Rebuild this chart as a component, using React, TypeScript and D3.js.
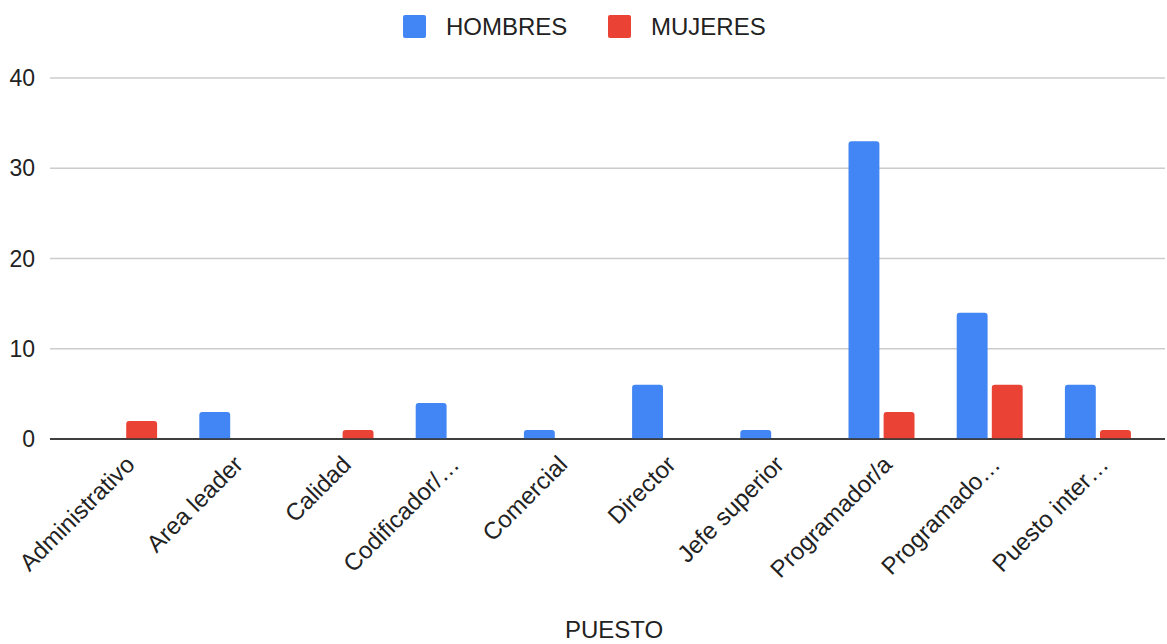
import React from "react";
import * as d3 from "d3";

const categories = [
  "Administrativo",
  "Area leader",
  "Calidad",
  "Codificador/…",
  "Comercial",
  "Director",
  "Jefe superior",
  "Programador/a",
  "Programado…",
  "Puesto inter…",
];
const hombres = [0, 3, 0, 4, 1, 6, 1, 33, 14, 6];
const mujeres = [2, 0, 1, 0, 0, 0, 0, 3, 6, 1];
const seriesNames = ["HOMBRES", "MUJERES"];
const seriesColors = ["#4285F4", "#EA4335"];
const yTicks = [0, 10, 20, 30, 40];

const W = 1167;
const H = 644;
const FONT = "'Liberation Sans', Arial, sans-serif";

export default function App() {
  const x = d3.scaleBand<string>().domain(categories).range([70, 1152]).paddingInner(0).paddingOuter(0);
  const y = d3.scaleLinear().domain([0, 40]).range([439, 78]);
  const inner = d3.scaleBand<string>().domain(seriesNames).range([0, 66]).paddingInner(0.12);
  const values = [hombres, mujeres];
  const gridX0 = 50;
  const gridX1 = 1165;

  const barPath = (x0: number, y0: number, w: number, h: number, r: number) => {
    if (h <= 0) return "";
    const rr = Math.min(r, h, w / 2);
    return `M${x0},${y0 + h}V${y0 + rr}Q${x0},${y0} ${x0 + rr},${y0}H${x0 + w - rr}Q${x0 + w},${y0} ${x0 + w},${y0 + rr}V${y0 + h}Z`;
  };

  return (
    <svg width={W} height={H} style={{ position: "absolute", left: 0, top: 0, background: "#fff" }} fontFamily={FONT}>
      {/* legend */}
      {seriesNames.map((s, i) => {
        const lx = i === 0 ? 403 : 608;
        return (
          <g key={s}>
            <rect x={lx} y={15} width={23} height={23} rx={2} fill={seriesColors[i]} />
            <text x={lx + 43} y={35} fontSize={24} fill="#222">{s}</text>
          </g>
        );
      })}
      {/* gridlines */}
      {yTicks.map((t) => (
        <g key={t}>
          <line x1={gridX0} x2={gridX1} y1={y(t)} y2={y(t)} stroke={t === 0 ? "#333" : "#ccc"} strokeWidth={t === 0 ? 1.5 : 1.3} />
          <text x={35} y={y(t) + 8} textAnchor="end" fontSize={23} fill="#222">{t}</text>
        </g>
      ))}
      {/* bars */}
      {categories.map((c, ci) => {
        const gx = (x(c) as number) + (x.bandwidth() - 66) / 2;
        return (
          <g key={c}>
            {seriesNames.map((s, si) => {
              const v = values[si][ci];
              const bx = gx + (inner(s) as number);
              const by = y(v);
              return <path key={s} d={barPath(bx, by, inner.bandwidth(), y(0) - by, 3)} fill={seriesColors[si]} />;
            })}
          </g>
        );
      })}
      {/* baseline on top */}
      <line x1={gridX0} x2={gridX1} y1={y(0)} y2={y(0)} stroke="#333" strokeWidth={1.5} />
      {/* x labels */}
      {categories.map((c) => {
        const cx = (x(c) as number) + x.bandwidth() / 2 + 12;
        const cy = 466;
        return (
          <text key={c} x={cx} y={cy} textAnchor="end" fontSize={24} fill="#222" transform={`rotate(-45 ${cx} ${cy})`}>
            {c}
          </text>
        );
      })}
      <text x={614} y={638} textAnchor="middle" fontSize={24} fill="#222">PUESTO</text>
    </svg>
  );
}
